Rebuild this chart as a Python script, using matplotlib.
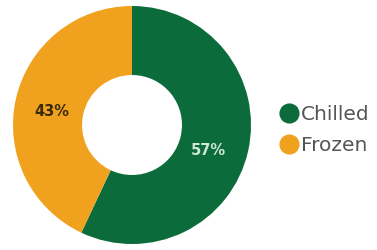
import numpy as np
import matplotlib.pyplot as plt
from matplotlib.lines import Line2D

labels = ['Chilled', 'Frozen']
values = [57, 43]
colors = ['#0b6b3a', '#f0a21f']
label_colors = ['#cfe9d6', '#3a2a08']
label_nudge = [-6, 3]  # degrees, where the original puts the % labels

fig = plt.figure(figsize=(3.77, 2.5), dpi=100)
ax = fig.add_axes([13 / 377, 6 / 250, 238 / 377, 238 / 250])
wedges, texts = ax.pie(
	values, colors=colors, startangle=90, counterclock=False,
	wedgeprops=dict(width=0.58, edgecolor='none'))
for w, v, c, d in zip(wedges, values, label_colors, label_nudge):
	ang = np.deg2rad((w.theta1 + w.theta2) / 2 + d)
	ax.text(0.68 * np.cos(ang), 0.68 * np.sin(ang), f'{v}%', ha='center', va='center',
			fontsize=10.5, fontweight='bold', color=c, family='DejaVu Sans')
ax.set_aspect('equal')
ax.set_xlim(-1, 1)
ax.set_ylim(-1, 1)

handles = [Line2D([], [], marker='o', linestyle='none', markersize=13.5,
				  markerfacecolor=c, markeredgecolor=c) for c in colors]
fig.legend(handles, labels, loc='center left', bbox_to_anchor=(261 / 377, 120 / 250),
		   frameon=False, handletextpad=0.1, labelspacing=0.6,
		   prop=dict(family='DejaVu Sans', size=14.5), labelcolor='#555555',
		   handlelength=1.0)
fig.savefig('out.png', dpi=100)
